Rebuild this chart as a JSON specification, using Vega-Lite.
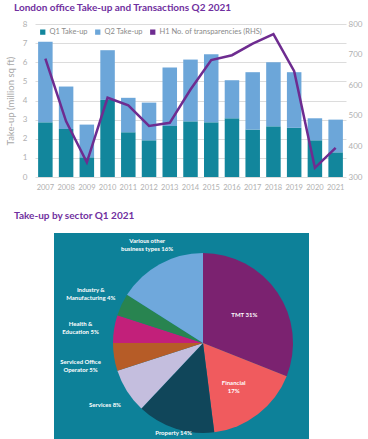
{
  "$schema": "https://vega.github.io/schema/vega-lite/v6.json",
  "padding": {"left": 5, "top": 3, "right": 5, "bottom": 0},
  "background": "white",
  "config": {
    "view": {"stroke": null},
    "font": "Lato",
    "axis": {"labelFont": "Lato", "titleFont": "Lato"},
    "legend": {"labelFont": "Lato"}
  },
  "resolve": {"scale": {"color": "independent", "theta": "independent"}, "legend": {"color": "independent"}},
  "datasets": {
    "takeup": [
      {"year": 2007, "series": "Q1 Take-up", "value": 2.86}, {"year": 2007, "series": "Q2 Take-up", "value": 4.21},
      {"year": 2008, "series": "Q1 Take-up", "value": 2.51}, {"year": 2008, "series": "Q2 Take-up", "value": 2.22},
      {"year": 2009, "series": "Q1 Take-up", "value": 1.03}, {"year": 2009, "series": "Q2 Take-up", "value": 1.71},
      {"year": 2010, "series": "Q1 Take-up", "value": 4.03}, {"year": 2010, "series": "Q2 Take-up", "value": 2.6},
      {"year": 2011, "series": "Q1 Take-up", "value": 2.34}, {"year": 2011, "series": "Q2 Take-up", "value": 1.8},
      {"year": 2012, "series": "Q1 Take-up", "value": 1.92}, {"year": 2012, "series": "Q2 Take-up", "value": 1.97},
      {"year": 2013, "series": "Q1 Take-up", "value": 2.67}, {"year": 2013, "series": "Q2 Take-up", "value": 3.05},
      {"year": 2014, "series": "Q1 Take-up", "value": 2.91}, {"year": 2014, "series": "Q2 Take-up", "value": 3.23},
      {"year": 2015, "series": "Q1 Take-up", "value": 2.86}, {"year": 2015, "series": "Q2 Take-up", "value": 3.56},
      {"year": 2016, "series": "Q1 Take-up", "value": 3.07}, {"year": 2016, "series": "Q2 Take-up", "value": 1.99},
      {"year": 2017, "series": "Q1 Take-up", "value": 2.48}, {"year": 2017, "series": "Q2 Take-up", "value": 3.0},
      {"year": 2018, "series": "Q1 Take-up", "value": 2.65}, {"year": 2018, "series": "Q2 Take-up", "value": 3.35},
      {"year": 2019, "series": "Q1 Take-up", "value": 2.57}, {"year": 2019, "series": "Q2 Take-up", "value": 2.91},
      {"year": 2020, "series": "Q1 Take-up", "value": 1.92}, {"year": 2020, "series": "Q2 Take-up", "value": 1.15},
      {"year": 2021, "series": "Q1 Take-up", "value": 1.29}, {"year": 2021, "series": "Q2 Take-up", "value": 1.71}
    ],
    "deals": [
      {"year": 2007, "series": "H1 No. of transparencies (RHS)", "value": 687},
      {"year": 2008, "series": "H1 No. of transparencies (RHS)", "value": 482},
      {"year": 2009, "series": "H1 No. of transparencies (RHS)", "value": 348},
      {"year": 2010, "series": "H1 No. of transparencies (RHS)", "value": 559},
      {"year": 2011, "series": "H1 No. of transparencies (RHS)", "value": 534},
      {"year": 2012, "series": "H1 No. of transparencies (RHS)", "value": 467},
      {"year": 2013, "series": "H1 No. of transparencies (RHS)", "value": 477},
      {"year": 2014, "series": "H1 No. of transparencies (RHS)", "value": 586},
      {"year": 2015, "series": "H1 No. of transparencies (RHS)", "value": 682},
      {"year": 2016, "series": "H1 No. of transparencies (RHS)", "value": 698},
      {"year": 2017, "series": "H1 No. of transparencies (RHS)", "value": 736},
      {"year": 2018, "series": "H1 No. of transparencies (RHS)", "value": 767},
      {"year": 2019, "series": "H1 No. of transparencies (RHS)", "value": 646},
      {"year": 2020, "series": "H1 No. of transparencies (RHS)", "value": 330},
      {"year": 2021, "series": "H1 No. of transparencies (RHS)", "value": 395}
    ],
    "sectors": [
      {"sector": "TMT", "pct": 31, "label": "TMT 31%", "order": 1},
      {"sector": "Financial", "pct": 17, "label": "Financial\n17%", "order": 2},
      {"sector": "Property", "pct": 14, "label": "Property 14%", "order": 3},
      {"sector": "Services", "pct": 8, "label": "Services 8%", "order": 4},
      {"sector": "Serviced Office Operator", "pct": 5, "label": "Serviced Office\nOperator 5%", "order": 5},
      {"sector": "Health & Education", "pct": 5, "label": "Health &\nEducation 5%", "order": 6},
      {"sector": "Industry & Manufacturing", "pct": 4, "label": "Industry &\nManufacturing 4%", "order": 7},
      {"sector": "Various other business types", "pct": 16, "label": "Various other\nbusiness types 16%", "order": 8}
    ]
  },
  "spacing": 20,
  "vconcat": [
    {
      "title": {"text": "London office Take-up  and Transactions Q2 2021", "anchor": "start", "frame": "group", "dx": -21, "offset": 7, "color": "#7030A0", "fontSize": 10, "fontWeight": "bold", "font": "Lato"},
      "width": 311,
      "height": 153,
      "layer": [
        {
          "data": {"name": "takeup"},
          "mark": {"type": "bar"},
          "encoding": {
            "x": {"field": "year", "type": "ordinal", "scale": {"paddingInner": 0.3, "paddingOuter": 0.15},
                  "axis": {"title": null, "labelAngle": 0, "ticks": false, "domain": false, "labelPadding": 6, "labelFontSize": 7.5, "labelColor": "#b0b0b0"}},
            "y": {"field": "value", "type": "quantitative", "stack": "zero", "scale": {"domain": [0, 8], "nice": false},
                  "axis": {"title": "Take-up (million sq ft)", "values": [0, 1, 2, 3, 4, 5, 6, 7, 8], "ticks": false, "domain": false, "grid": true, "gridColor": "#dcdcdc", "labelPadding": 8, "labelFontSize": 8, "labelColor": "#b0b0b0", "titleFontSize": 9.5, "titleFontWeight": "normal", "titleColor": "#a8a8a8", "titlePadding": 7}},
            "color": {"field": "series", "type": "nominal",
                      "scale": {"domain": ["Q1 Take-up", "Q2 Take-up", "H1 No. of transparencies (RHS)"], "range": ["#12869c", "#6ca6d9", "#6e2c90"]},
                      "legend": {"orient": "top-left", "direction": "horizontal", "title": null, "symbolType": "square", "symbolSize": 28, "symbolStrokeWidth": 0, "labelFontSize": 7.5, "labelColor": "#8a8a8a", "columnPadding": 6, "offset": 4, "padding": 0, "labelOffset": 3}},
            "order": {"field": "series", "sort": "ascending"}
          }
        },
        {
          "data": {"name": "deals"},
          "mark": {"type": "line", "strokeWidth": 2.5},
          "encoding": {
            "x": {"field": "year", "type": "ordinal"},
            "y": {"field": "value", "type": "quantitative", "scale": {"domain": [300, 800], "nice": false},
                  "axis": {"orient": "right", "title": null, "values": [300, 400, 500, 600, 700, 800], "ticks": false, "domain": false, "grid": false, "labelPadding": 2, "labelFontSize": 8, "labelColor": "#b0b0b0"}},
            "color": {"field": "series", "type": "nominal"}
          }
        }
      ],
      "resolve": {"scale": {"y": "independent"}}
    },
    {
      "title": {"text": "Take-up by sector Q1 2021", "anchor": "start", "frame": "group", "dx": -21, "offset": 10, "color": "#7030A0", "fontSize": 10, "fontWeight": "bold", "font": "Lato"},
      "spacing": 0,
      "bounds": "flush",
      "hconcat": [
        {
          "data": {"values": []},
          "mark": {"type": "text"},
          "encoding": {},
          "width": 19,
          "height": 220,
          "view": {"fill": null, "stroke": null}
        },
        {
          "data": {"values": []},
          "mark": {"type": "text"},
          "encoding": {},
          "width": 43,
          "height": 220,
          "view": {"fill": "#0d8199", "stroke": null}
        },
        {
          "data": {"name": "sectors"},
          "width": 212,
          "height": 220,
          "view": {"fill": "#0d8199", "stroke": null},
          "encoding": {
            "theta": {"field": "pct", "type": "quantitative", "stack": true},
            "order": {"field": "order", "type": "quantitative", "sort": "ascending"}
          },
          "layer": [
            {
              "mark": {"type": "arc", "outerRadius": 90},
              "encoding": {
                "color": {"field": "sector", "type": "nominal",
                          "scale": {"domain": ["TMT", "Financial", "Property", "Services", "Serviced Office Operator", "Health & Education", "Industry & Manufacturing", "Various other business types"],
                                    "range": ["#7b2270", "#f05b5e", "#10465a", "#c4bede", "#b65c27", "#c2207a", "#288450", "#6fa8dc"]},
                          "legend": null}
              }
            },
            {
              "mark": {"type": "text", "radius": 50, "fontSize": 6, "fontWeight": "bold", "color": "white", "lineBreak": "\n", "lineHeight": 8, "font": "Lato"},
              "encoding": {
                "text": {"condition": {"test": "indexof(['TMT','Financial'], datum.sector) >= 0", "field": "label"}, "value": ""}
              }
            },
            {
              "mark": {"type": "text", "radius": 95, "fontSize": 6, "fontWeight": "bold", "color": "white", "lineBreak": "\n", "lineHeight": 8, "font": "Lato"},
              "encoding": {
                "text": {"condition": {"test": "datum.sector === 'Property'", "field": "label"}, "value": ""}
              }
            },
            {
              "mark": {"type": "text", "radius": 116, "fontSize": 6, "fontWeight": "bold", "color": "white", "lineBreak": "\n", "lineHeight": 8, "font": "Lato"},
              "encoding": {
                "text": {"condition": {"test": "indexof(['Services','Various other business types'], datum.sector) >= 0", "field": "label"}, "value": ""}
              }
            },
            {
              "mark": {"type": "text", "radius": 124, "fontSize": 6, "fontWeight": "bold", "color": "white", "lineBreak": "\n", "lineHeight": 8, "font": "Lato"},
              "encoding": {
                "text": {"condition": {"test": "indexof(['Serviced Office Operator','Health & Education','Industry & Manufacturing'], datum.sector) >= 0", "field": "label"}, "value": ""}
              }
            }
          ]
        }
      ]
    }
  ]
}
